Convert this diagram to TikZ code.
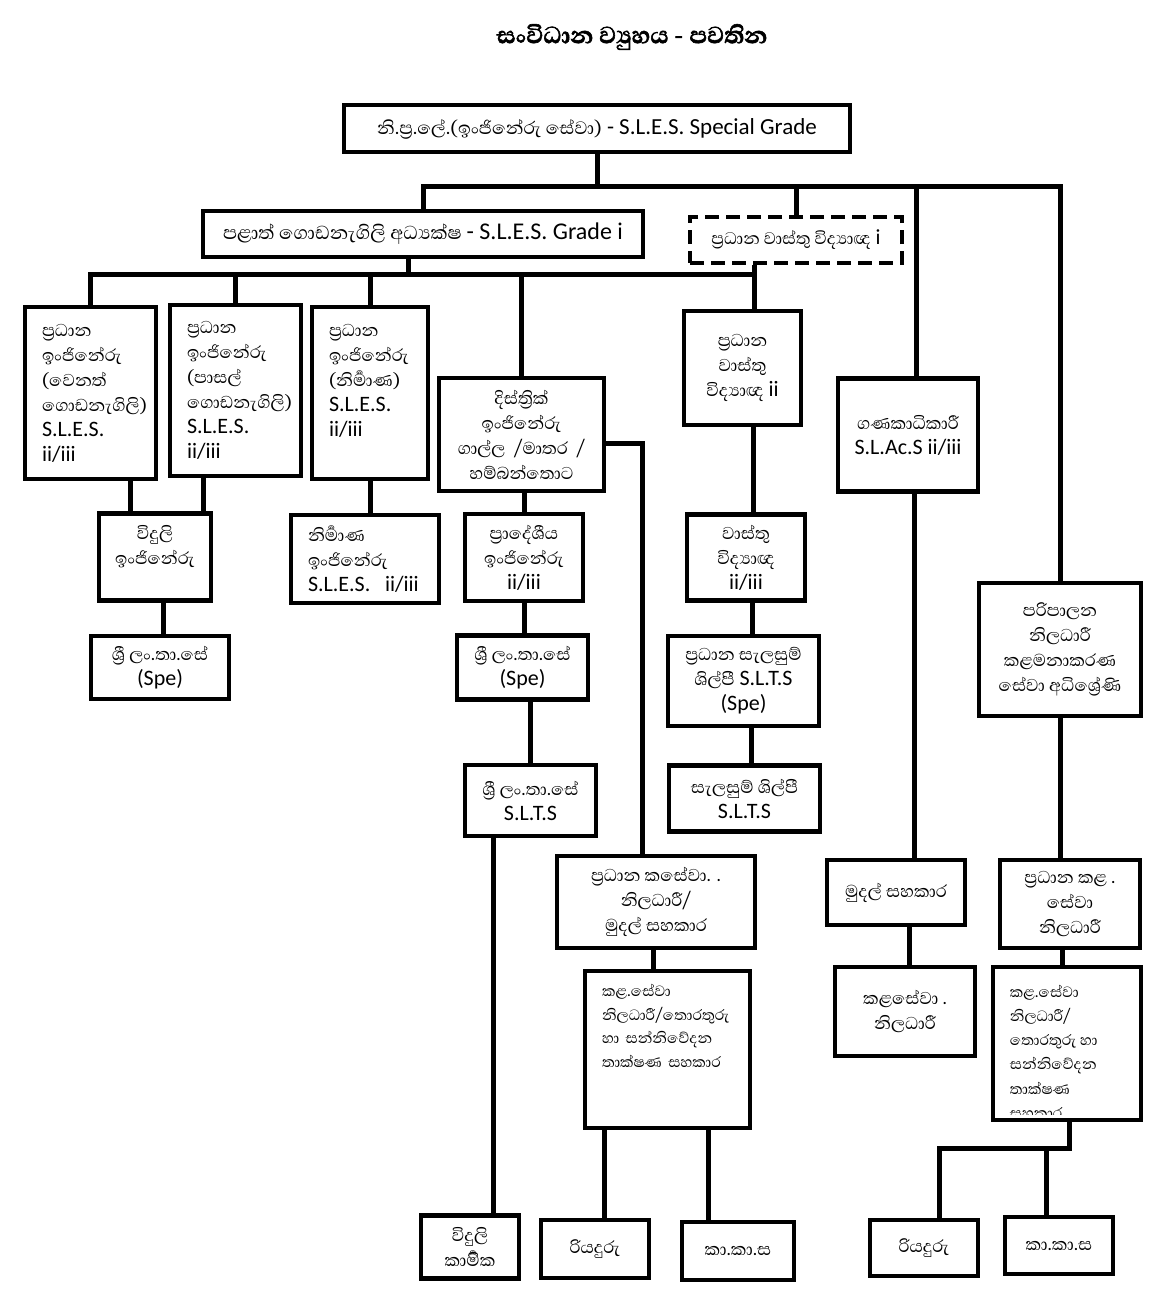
\documentclass[tikz,border=0pt]{standalone}
\usepackage{fontspec}
\setmainfont{Carlito}
\newfontfamily\sinhala[Script=Sinhala]{Abhaya Libre}
\newfontfamily\sinhalatitle[Script=Sinhala, FakeBold=2]{Abhaya Libre}
\newcommand{\snh}[1]{{\sinhala #1}}
\tikzset{
  postbox/.style={draw, line width=4.5pt, align=center, inner sep=2pt, font=\fontsize{22}{25}\selectfont},
  postboxl/.style={postbox, align=left, inner xsep=17pt},
  joinline/.style={line width=5pt},
}
\begin{document}
\begin{tikzpicture}[x=1pt,y=-1pt]
\useasboundingbox (0,0) rectangle (1163,1314);
\node[font=\sinhalatitle\bfseries\fontsize{30}{34}\selectfont] (title) at (632,37) {සංවිධාන ව්^^^^200dයුහය - පවතින};
% top levels
\node[postbox, minimum width=506pt, minimum height=47pt, font=\fontsize{23}{26}\selectfont] (top) at (597,128.5) {\snh{නි.ප්^^^^200dර.ලේ.(ඉංජිනේරු සේවා)} - S.L.E.S. Special Grade};
\node[postbox, minimum width=440pt, minimum height=46pt, font=\fontsize{24}{27}\selectfont] (g1) at (423,234) {\snh{පළාත් ගොඩනැගිලි අධ්^^^^200dයක්ෂ} - S.L.E.S. Grade i};
\node[postbox, dash pattern=on 14pt off 7pt, minimum width=212pt, minimum height=46pt, font=\fontsize{21.5}{24}\selectfont] (arch1) at (796,240) {\snh{ප්^^^^200dරධාන වාස්තු විද්^^^^200dයාඥ} i};
% third row
\node[postboxl, text width=97pt, minimum height=172pt] (pe1) at (90.5,393) {\snh{ප්^^^^200dරධාන}\\\snh{ඉංජිනේරු}\\\snh{(වෙනත්}\\\snh{ගොඩනැගිලි)}\\S.L.E.S.\\ii/iii};
\node[postboxl, text width=97pt, minimum height=171pt] (pe2) at (235.5,390.5) {\snh{ප්^^^^200dරධාන}\\\snh{ඉංජිනේරු}\\\snh{(පාසල්}\\\snh{ගොඩනැගිලි)}\\S.L.E.S.\\ii/iii};
\node[postboxl, text width=82pt, minimum height=172pt] (pe3) at (370,393) {\snh{ප්^^^^200dරධාන}\\\snh{ඉංජිනේරු}\\\snh{(නිර්^^^^200dමාණ)}\\S.L.E.S.\\ii/iii\\~};
\node[postbox, minimum width=165pt, minimum height=113pt] (dist) at (521.5,434.5) {\snh{දිස්ත්^^^^200dරික්}\\\snh{ඉංජිනේරු}\\\snh{ගාල්ල \ /මාතර \ /}\\\snh{හම්බන්තොට}};
\node[postbox, minimum width=117pt, minimum height=114pt] (arch2) at (742.5,368) {\snh{ප්^^^^200dරධාන}\\\snh{වාස්තු}\\\snh{විද්^^^^200dයාඥ} ii};
\node[postbox, minimum width=140pt, minimum height=113pt] (acct) at (908,435) {\snh{ගණකාධිකාරී}\\S.L.Ac.S ii/iii};
\node[postbox, minimum width=162pt, minimum height=133pt] (admin) at (1060,649.5) {\snh{පරිපාලන}\\\snh{නිලධාරී}\\\snh{කළමනාකරණ}\\\snh{සේවා අධිශ්^^^^200dරේණි}};
% fourth row
\node[postbox, minimum width=112pt, minimum height=87pt] (elec) at (155,557) {\snh{විදුලි}\\\snh{ඉංජිනේරු}\\~};
\node[postboxl, text width=114pt, minimum height=88pt] (cons) at (365,559) {\snh{නිර්^^^^200dමාණ}\\\snh{ඉංජිනේරු}\\S.L.E.S. \ ii/iii};
\node[postbox, minimum width=118pt, minimum height=87pt] (reg) at (524,557.5) {\snh{ප්^^^^200dරාදේශීය}\\\snh{ඉංජිනේරු}\\ii/iii};
\node[postbox, minimum width=118pt, minimum height=86pt] (arch3) at (746,557.5) {\snh{වාස්තු}\\\snh{විද්^^^^200dයාඥ}\\ii/iii};
% fifth and sixth rows
\node[postbox, minimum width=138pt, minimum height=63pt] (tech1) at (160,667.5) {\snh{ශ්^^^^200dරී ලං.තා.සේ}\\(Spe)};
\node[postbox, minimum width=131pt, minimum height=64pt] (tech2) at (522.5,667.5) {\snh{ශ්^^^^200dරී ලං.තා.සේ}\\(Spe)};
\node[postbox, minimum width=151pt, minimum height=90pt] (draft1) at (743.5,681) {\snh{ප්^^^^200dරධාන සැලසුම්}\\\snh{ශිල්පී} S.L.T.S\\(Spe)};
\node[postbox, minimum width=131pt, minimum height=71pt] (tech3) at (530.5,800.5) {\snh{ශ්^^^^200dරී ලං.තා.සේ}\\S.L.T.S};
\node[postbox, minimum width=151pt, minimum height=66pt] (draft2) at (744.5,798.5) {\snh{සැලසුම් ශිල්පී}\\S.L.T.S};
% office staff
\node[postbox, minimum width=198pt, minimum height=92pt] (pk) at (656,902) {\snh{ප්^^^^200dරධාන කසේවා. .}\\\snh{නිලධාරී/}\\\snh{මුදල් සහකාර}};
\node[postboxl, text width=131pt, minimum height=157pt, font=\fontsize{19}{23.5}\selectfont] (k1) at (667.5,1049.5) {\snh{කළ.සේවා}\\\snh{නිලධාරී/තොරතුරු}\\\snh{හා සන්නිවේදන}\\\snh{තාක්ෂණ සහකාර}\\~\\~};
\node[postbox, minimum width=138pt, minimum height=65pt] (m1) at (896,892.5) {\snh{මුදල් සහකාර}};
\node[postbox, minimum width=140pt, minimum height=89pt] (k2) at (905,1011.5) {\snh{කළසේවා .}\\\snh{නිලධාරී}};
\node[postbox, minimum width=140pt, minimum height=88pt] (pk2) at (1070,904) {\snh{ප්^^^^200dරධාන කළ .}\\\snh{සේවා}\\\snh{නිලධාරී}};
\node[postbox, minimum width=148pt, minimum height=153pt] (k3) at (1067,1043.5) {};
\begin{scope}
\clip (k3.north west) rectangle ([yshift=8pt]k3.south east);
\node[anchor=north west, align=left, inner sep=0pt, font=\fontsize{19}{24.2}\selectfont] (k3text) at ([xshift=19pt,yshift=-20pt]k3.north west) {\snh{කළ.සේවා}\\\snh{නිලධාරී/}\\\snh{තොරතුරු හා}\\\snh{සන්නිවේදන}\\\snh{තාක්ෂණ}\\\snh{සහකාර}};
\end{scope}
% bottom row
\node[postbox, minimum width=98pt, minimum height=63pt] (wire) at (470,1247) {\snh{විදුලි}\\\snh{කාර්^^^^200dමික}};
\node[postbox, minimum width=108pt, minimum height=58pt] (dr1) at (595,1249) {\snh{රියදුරු}};
\node[postbox, minimum width=112pt, minimum height=58pt] (kk1) at (738,1251) {\snh{කා.කා.ස}};
\node[postbox, minimum width=108pt, minimum height=56pt] (dr2) at (924,1248) {\snh{රියදුරු}};
\node[postbox, minimum width=108pt, minimum height=57pt] (kk2) at (1059,1245.5) {\snh{කා.කා.ස}};
% connectors
\coordinate (bus1) at (0,186);
\coordinate (bus2) at (754,274);
\coordinate (acctin) at ([xshift=8pt]acct.north);
\coordinate (g1out) at ([xshift=-15pt]g1.south);
\draw[joinline] (top.south) -- (top.south |- bus1);
\draw[joinline] (g1.north) |- (admin.north |- bus1) -- (admin.north);
\draw[joinline] (arch1.north) -- (arch1.north |- bus1);
\draw[joinline] (acctin) -- (acctin |- bus1);
\draw[joinline] (pe1.north) |- (bus2) -- (bus2 |- arch2.north);
\draw[joinline] (g1out) -- (g1out |- bus2);
\draw[joinline] (arch1.south -| bus2) -- (bus2);
\draw[joinline] (pe2.north) -- (pe2.north |- bus2);
\draw[joinline] (pe3.north) -- (pe3.north |- bus2);
\draw[joinline] (dist.north) -- (dist.north |- bus2);
\draw[joinline] ([xshift=40pt]pe1.south) -- ([xshift=40pt]pe1.south |- elec.north);
\draw[joinline] ([xshift=-32pt]pe2.south) -- ([xshift=-32pt]pe2.south |- elec.north);
\draw[joinline] (pe3.south) -- (pe3.south |- cons.north);
\draw[joinline] (reg.north |- dist.south) -- (reg.north);
\draw[joinline] ([xshift=10.5pt]arch2.south) -- ([xshift=10.5pt]arch2.south |- arch3.north);
\draw[joinline] ([xshift=8pt]elec.south) -- ([xshift=8pt]elec.south |- tech1.north);
\draw[joinline] (reg.south) -- (reg.south |- tech2.north);
\draw[joinline] ([xshift=6pt]arch3.south) -- ([xshift=6pt]arch3.south |- draft1.north);
\draw[joinline] (tech3.north |- tech2.south) -- (tech3.north);
\draw[joinline] ([xshift=8pt]draft1.south) -- ([xshift=8pt]draft1.south |- draft2.north);
\draw[joinline] ([xshift=-37pt]tech3.south) -- ([xshift=-37pt]tech3.south |- wire.north);
\draw[joinline] ([yshift=-8.5pt]dist.east) -| ([xshift=-14pt]pk.north);
\draw[joinline] ([xshift=-3pt]pk.south) -- ([xshift=-3pt]pk.south |- k1.north);
\draw[joinline] ([xshift=-63.5pt]k1.south) -- ([xshift=-63.5pt]k1.south |- dr1.north);
\draw[joinline] ([xshift=40.5pt]k1.south) -- ([xshift=40.5pt]k1.south |- kk1.north);
\draw[joinline] ([xshift=6pt]acct.south) -- ([xshift=6pt]acct.south |- m1.north);
\draw[joinline] ([xshift=13pt]m1.south) -- ([xshift=13pt]m1.south |- k2.north);
\draw[joinline] (admin.south) -- (admin.south |- pk2.north);
\draw[joinline] ([xshift=-8pt]pk2.south) -- ([xshift=-8pt]pk2.south |- k3.north);
\coordinate (bus3) at ([yshift=-26pt]k3.south);
\draw[joinline] ([xshift=2pt]k3.south) -- ([xshift=2pt]k3.south |- bus3) -| ([xshift=15pt]dr2.north);
\draw[joinline] ([xshift=-13pt]kk2.north) -- ([xshift=-13pt]kk2.north |- bus3);
\end{tikzpicture}
\end{document}
